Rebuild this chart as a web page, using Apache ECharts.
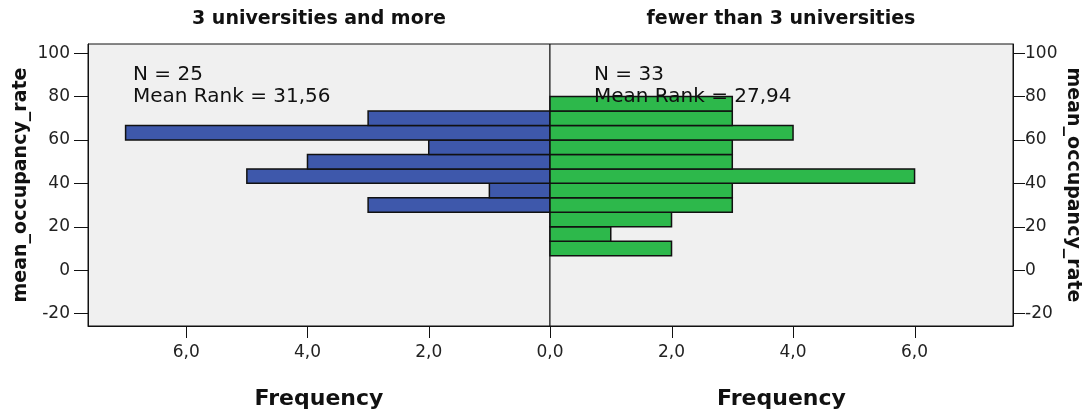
<!DOCTYPE html>
<html>
<head>
<meta charset="utf-8">
<script src="https://cdn.jsdelivr.net/npm/echarts@6/dist/echarts.min.js"></script>
<style>
  html, body { margin: 0; padding: 0; background: #fff; }
  #chart { width: 1087px; height: 418px; }
</style>
</head>
<body>
<div id="chart"></div>
<script>
// histogram bins of mean_occupancy_rate (width 20/3)
const binEdges = [6.67, 13.33, 20, 26.67, 33.33, 40, 46.67, 53.33, 60, 66.67, 73.33, 80];
// counts per bin, from lowest bin to highest
const countsMore = [0, 0, 0, 3, 1, 5, 4, 2, 7, 3, 0];
const countsFewer = [2, 1, 2, 3, 3, 6, 3, 3, 4, 3, 3];

const groupTitles = ["3 universities and more", "fewer than 3 universities"];
const groupN = [25, 33];
const meanRanks = ["31,56", "27,94"];

const freqTicks = [0, 2, 4, 6];
const yTicks = [-20, 0, 20, 40, 60, 80, 100];

const FONT = '"DejaVu Sans", Verdana, sans-serif';
const blue = "#3e58ab";
const green = "#2db84b";
const Y_MIN = -25.7;
const Y_MAX = 104.2;

const toBins = (counts) =>
  counts.map((n, i) => [binEdges[i], binEdges[i + 1], n]);

const fmtFreq = (v) => v.toFixed(1).replace(".", ",");

const renderBar = (color) => (params, api) => {
  const lo = api.value(0);
  const hi = api.value(1);
  const n = api.value(2);
  if (!n) return;
  const a = api.coord([0, hi]);
  const b = api.coord([n, lo]);
  return {
    type: "rect",
    shape: {
      x: Math.min(a[0], b[0]),
      y: a[1],
      width: Math.abs(b[0] - a[0]),
      height: b[1] - a[1],
    },
    style: { fill: color, stroke: "#111", lineWidth: 1.5 },
  };
};

const chart = echarts.init(document.getElementById("chart"));

const xAxisBase = (gridIndex, inverse) => ({
  type: "value",
  gridIndex,
  min: 0,
  max: 7.62,
  interval: 2,
  inverse,
  name: "Frequency",
  nameLocation: "middle",
  nameGap: 62,
  nameTextStyle: { fontFamily: FONT, fontSize: 22, fontWeight: "bold", color: "#111" },
  axisLine: { show: true, onZero: false, lineStyle: { color: "#111", width: 1 } },
  axisTick: { show: false },
  axisLabel: {
    margin: 18,
    fontFamily: FONT,
    fontSize: 17,
    color: "#222",
    showMaxLabel: false,
    formatter: (v) =>
      freqTicks.includes(v) && (inverse || v !== 0) ? fmtFreq(v) : "",
  },
  splitLine: { show: false },
});

const yAxisBase = (gridIndex, position) => ({
  type: "value",
  gridIndex,
  position,
  min: Y_MIN,
  max: Y_MAX,
  name: "mean_occupancy_rate",
  nameLocation: "middle",
  nameRotate: position === "left" ? 90 : -90,
  nameGap: position === "left" ? 57 : 50,
  nameTextStyle: { fontFamily: FONT, fontSize: 19, fontWeight: "bold", color: "#111" },
  axisLine: { show: true, onZero: false, lineStyle: { color: "#111", width: 1 } },
  axisTick: { show: true, length: position === "left" ? 14 : 12, customValues: yTicks, lineStyle: { color: "#111" } },
  axisLabel: {
    customValues: yTicks,
    margin: position === "left" ? 18 : 12,
    fontFamily: FONT,
    fontSize: 17,
    color: "#222",
  },
  splitLine: { show: false },
});

const annotation = (x, i) => ({
  id: "note" + i,
  type: "text",
  left: x,
  top: 64,
  z: 100,
  style: {
    text: "N = " + groupN[i] + "\nMean Rank = " + meanRanks[i],
    font: "20px " + FONT,
    lineHeight: 22,
    fill: "#111",
  },
});

const heading = (cx, i) => ({
  id: "title" + i,
  type: "text",
  x: cx,
  y: 19,
  style: {
    text: groupTitles[i],
    font: "bold 19px " + FONT,
    fill: "#111",
    textAlign: "center",
    textVerticalAlign: "middle",
  },
});

chart.setOption({
  animation: false,
  grid: [
    { left: 88, right: 537, top: 44, bottom: 92, show: true, backgroundColor: "#f0f0f0", borderColor: "#111", borderWidth: 1 },
    { left: 550, right: 74, top: 44, bottom: 92, show: true, backgroundColor: "#f0f0f0", borderColor: "#111", borderWidth: 1 },
  ],
  xAxis: [xAxisBase(0, true), xAxisBase(1, false)],
  yAxis: [yAxisBase(0, "left"), yAxisBase(1, "right")],
  series: [
    {
      type: "custom",
      xAxisIndex: 0,
      yAxisIndex: 0,
      data: toBins(countsMore),
      encode: { x: 2, y: [0, 1] },
      renderItem: renderBar(blue),
      z: 5,
    },
    {
      type: "custom",
      xAxisIndex: 1,
      yAxisIndex: 1,
      data: toBins(countsFewer),
      encode: { x: 2, y: [0, 1] },
      renderItem: renderBar(green),
      z: 5,
    },
  ],
  graphic: [
    heading(319, 0),
    heading(781, 1),
    annotation(133, 0),
    annotation(594, 1),
  ],
});

// frequency ticks below the bottom axis, placed through each grid's scales
const tickMarks = [];
[0, 1].forEach((g) => {
  freqTicks.forEach((v) => {
    const p = chart.convertToPixel({ gridIndex: g }, [v, Y_MIN]);
    if (!p || !isFinite(p[0])) return;
    const x = Math.round(p[0]) + 0.5;
    tickMarks.push({
      id: "tick" + g + "_" + v,
      type: "line",
      z: 200,
      silent: true,
      shape: { x1: x, y1: p[1], x2: x, y2: p[1] + 12 },
      style: { stroke: "#111", lineWidth: 1 },
    });
  });
});
chart.setOption({ graphic: tickMarks });
</script>
</body>
</html>
